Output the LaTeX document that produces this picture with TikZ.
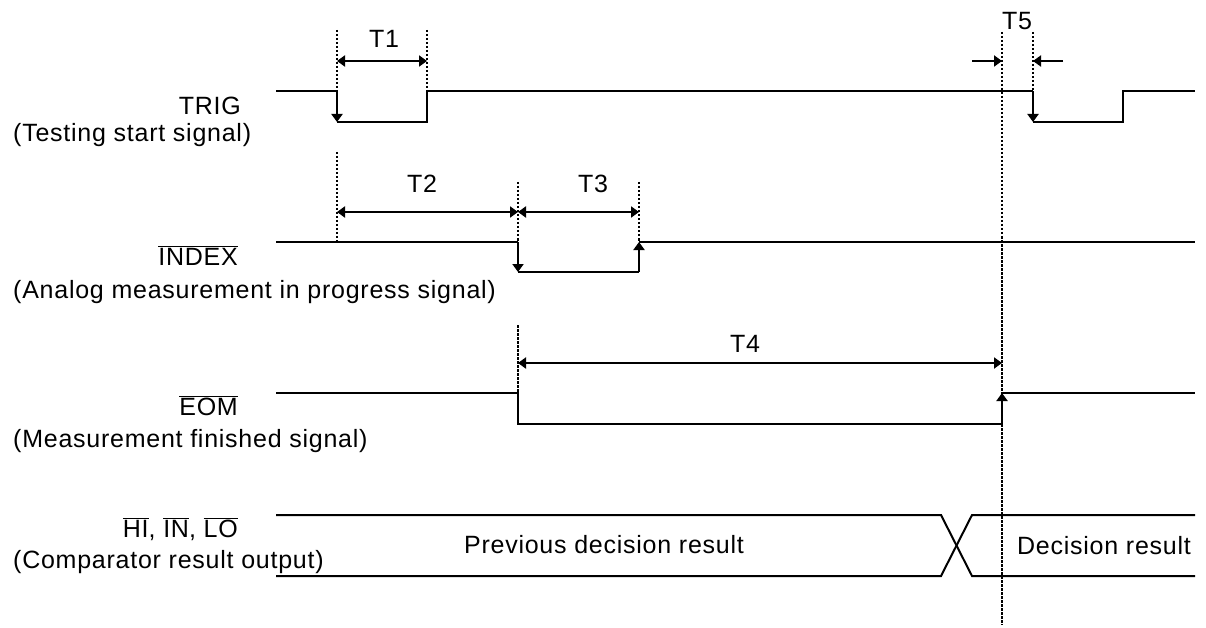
\documentclass[tikz,border=0pt]{standalone}
\usepackage{fontspec}
\setmainfont{Liberation Sans}[LetterSpace=3]
\usetikzlibrary{arrows.meta}
\newcommand{\olbar}[1]{\ensuremath{\overline{\mbox{#1}}}}
\tikzset{
  signal line/.style={line width=2pt},
  edge arrow/.style={-{Triangle[length=8pt,width=11pt]},line width=2pt},
  time arrow/.style={{Triangle[length=8pt,width=11pt]}-{Triangle[length=8pt,width=11pt]},
    line width=2pt},
  half arrow/.style={-{Triangle[length=8pt,width=11pt]},line width=2pt},
  guide line/.style={line width=1.5pt,dash pattern=on 2.5pt off 1.5pt},
  signal name/.style={anchor=base east,inner sep=0pt,
    font=\fontsize{25}{28}\selectfont},
  signal note/.style={anchor=base west,inner sep=0pt,
    font=\fontsize{25}{28}\selectfont},
  time label/.style={anchor=base,inner sep=0pt,
    font=\fontsize{25}{28}\selectfont}
}
\begin{document}
\begin{tikzpicture}[x=1pt,y=-1pt]
  \useasboundingbox (0,0) rectangle (1206,628);
  % TRIG
  \coordinate (trig0) at (276,91);
  \coordinate (trigF1) at (337,91);
  \coordinate (trigF1l) at (337,122);
  \coordinate (trigR1l) at (427,122);
  \coordinate (trigR1) at (427,91);
  \coordinate (trigF2) at (1033,91);
  \coordinate (trigF2l) at (1033,122);
  \coordinate (trigR2l) at (1123,122);
  \coordinate (trigR2) at (1123,91);
  \coordinate (trigE) at (1195,91);
  \draw[signal line] (trig0) -- (trigF1) (trigF1l) -- (trigR1l) -- (trigR1)
    -- (trigF2) (trigF2l) -- (trigR2l) -- (trigR2) -- (trigE);
  \draw[edge arrow] (trigF1) -- (trigF1l);
  \draw[edge arrow] (trigF2) -- (trigF2l);
  % INDEX
  \coordinate (idx0) at (276,242);
  \coordinate (idxF) at (518,242);
  \coordinate (idxFl) at (518,272);
  \coordinate (idxRl) at (639,272);
  \coordinate (idxR) at (639,242);
  \coordinate (idxE) at (1195,242);
  \draw[signal line] (idx0) -- (idxF) (idxFl) -- (idxRl) (idxR) -- (idxE);
  \draw[edge arrow] (idxF) -- (idxFl);
  \draw[edge arrow] (idxRl) -- (idxR);
  % EOM
  \coordinate (eom0) at (276,393);
  \coordinate (eomF) at (518,393);
  \coordinate (eomFl) at (518,424);
  \coordinate (eomRl) at (1002,424);
  \coordinate (eomR) at (1002,393);
  \coordinate (eomE) at (1195,393);
  \draw[signal line] (eom0) -- (eomF) -- (eomFl) -- (eomRl) (eomR) -- (eomE);
  \draw[edge arrow] (eomRl) -- (eomR);
  % comparator bus
  \coordinate (busAu) at (276,515);
  \coordinate (busAl) at (276,576);
  \coordinate (busBu) at (941,515);
  \coordinate (busBl) at (941,576);
  \coordinate (busCu) at (972,515);
  \coordinate (busCl) at (972,576);
  \coordinate (busDu) at (1195,515);
  \coordinate (busDl) at (1195,576);
  \draw[signal line] (busAu) -- (busBu) -- (busCl) -- (busDl);
  \draw[signal line] (busAl) -- (busBl) -- (busCu) -- (busDu);
  % guides
  \foreach \x/\top/\bot in {337/30/91,427/30/91,337/152/242,518/182/242,
    639/182/242,518/325/393,1002/32/625,1033/32/91}
    \draw[guide line] (\x,\top) -- (\x,\bot);
  % times
  \coordinate (t1a) at (337,61);
  \coordinate (t1b) at (427,61);
  \coordinate (t2a) at (337,212);
  \coordinate (t2b) at (518,212);
  \coordinate (t3b) at (639,212);
  \coordinate (t4a) at (518,363);
  \coordinate (t4b) at (1002,363);
  \coordinate (t5a) at (972,61);
  \coordinate (t5b) at (1002,61);
  \coordinate (t5c) at (1033,61);
  \coordinate (t5d) at (1063,61);
  \draw[time arrow] (t1a) -- (t1b);
  \draw[time arrow] (t2a) -- (t2b);
  \draw[time arrow] (t2b) -- (t3b);
  \draw[time arrow] (t4a) -- (t4b);
  \draw[half arrow] (t5a) -- (t5b);
  \draw[half arrow] (t5d) -- (t5c);
  \node[time label] (T1) at (384,48) {T1};
  \node[time label] (T2) at (422,193) {T2};
  \node[time label] (T3) at (593,193) {T3};
  \node[time label] (T4) at (745,352) {T4};
  \node[time label] (T5) at (1017,30) {T5};
  % names
  \node[signal name] (trig) at (241,115) {TRIG};
  \node[signal note] (trignote) at (13,142) {(Testing start signal)};
  \node[signal name] (idx) at (238,265) {\olbar{INDEX}};
  \node[signal note] (idxnote) at (13,298) {(Analog measurement in progress signal)};
  \node[signal name] (eom) at (238,415) {\olbar{EOM}};
  \node[signal note] (eomnote) at (13,447) {(Measurement finished signal)};
  \node[signal name] (cmp) at (238,537) {\olbar{HI}, \olbar{IN}, \olbar{LO}};
  \node[signal note] (cmpnote) at (13,568) {(Comparator result output)};
  \node[time label] (prev) at (604,553) {Previous decision result};
  \node[time label] (dec) at (1104,554) {Decision result};
\end{tikzpicture}
\end{document}
